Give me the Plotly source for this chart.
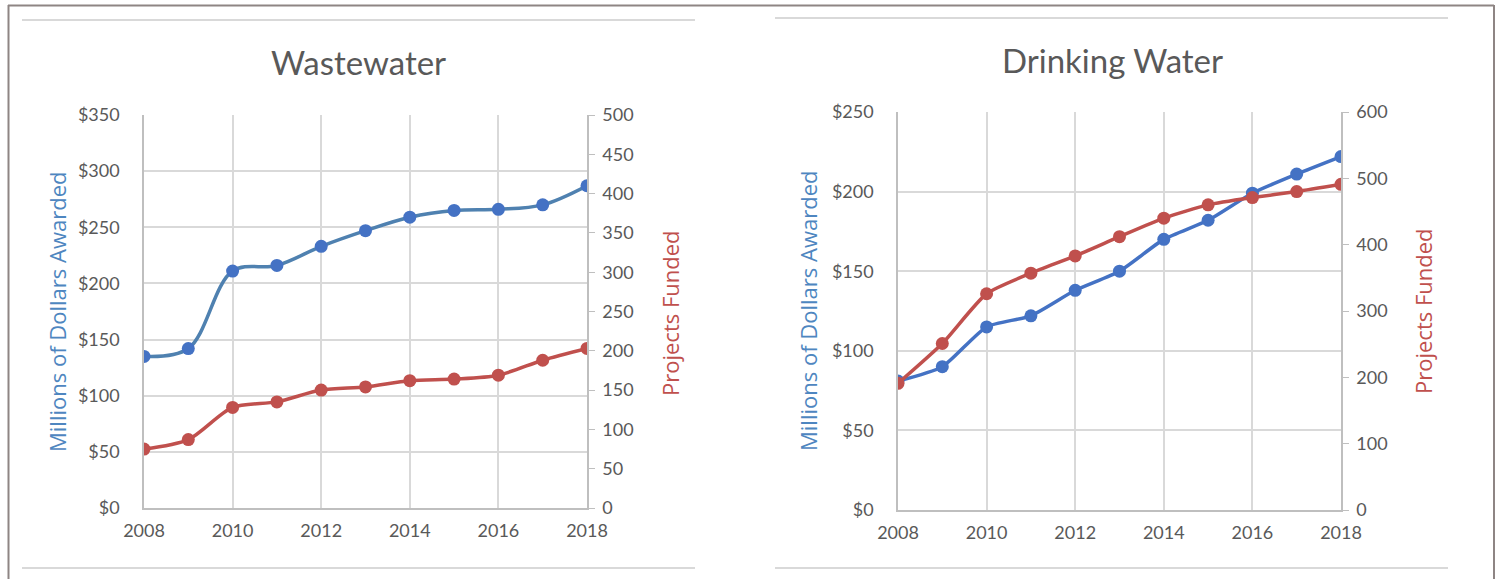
import plotly.graph_objects as go

years = [2008, 2009, 2010, 2011, 2012, 2013, 2014, 2015, 2016, 2017, 2018]

ww_dollars = [135, 142, 211, 216, 233, 247, 259, 265, 266, 270, 287]
ww_projects = [75, 87, 128, 135, 150, 154, 162, 164, 169, 188, 203]

dw_dollars = [81, 90, 115, 122, 138, 150, 170, 182, 199, 211, 222]
dw_projects = [191, 251, 326, 357, 383, 412, 440, 460, 471, 480, 491]

titles = ["Wastewater", "Drinking Water"]
left_title = "Millions of Dollars Awarded"
right_title = "Projects Funded"

W, H = 1501, 579
def px(x):
    return x / W
def py(y):
    return 1 - y / H

BLUE_M = "#4472C4"
BLUE_L_WW = "#4F81B0"
RED = "#C0504D"
GRID = "#D9D9D9"
AXIS = "#BFBFBF"
TXT = "#595959"
FONT = "Lato"

fig = go.Figure()

fig.add_trace(go.Scatter(x=years, y=ww_dollars, mode="lines+markers",
    line=dict(color=BLUE_L_WW, width=3.5, shape="spline", smoothing=1),
    marker=dict(color=BLUE_M, size=13), xaxis="x", yaxis="y", showlegend=False))
fig.add_trace(go.Scatter(x=years, y=ww_projects, mode="lines+markers",
    line=dict(color=RED, width=3.5, shape="spline", smoothing=0.8),
    marker=dict(color=RED, size=13), xaxis="x", yaxis="y2", showlegend=False))
fig.add_trace(go.Scatter(x=years, y=dw_dollars, mode="lines+markers",
    line=dict(color=BLUE_M, width=3.5, shape="spline", smoothing=0.6),
    marker=dict(color=BLUE_M, size=13), xaxis="x2", yaxis="y3", showlegend=False))
fig.add_trace(go.Scatter(x=years, y=dw_projects, mode="lines+markers",
    line=dict(color=RED, width=3.5, shape="spline", smoothing=0.6),
    marker=dict(color=RED, size=13), xaxis="x2", yaxis="y4", showlegend=False))

tickfont = dict(family=FONT, size=18, color=TXT)

xcommon = dict(range=[2008, 2018], dtick=2, tick0=2008, showgrid=True, gridcolor=GRID,
               gridwidth=1.5, showline=True, linecolor=AXIS, linewidth=1.5,
               tickfont=tickfont, ticks="", ticklabelstandoff=6, zeroline=False,
               automargin=False)
lcommon = dict(showgrid=True, gridcolor=GRID, gridwidth=1.5, showline=True,
               linecolor=AXIS, linewidth=1.5, tickfont=tickfont, ticks="",
               tickprefix="$", ticklabelstandoff=19, zeroline=False, automargin=False)
rcommon = dict(showgrid=False, showline=True, linecolor=AXIS, linewidth=1.5,
               tickfont=tickfont, ticks="outside", ticklen=6, tickcolor=AXIS,
               ticklabelstandoff=4, zeroline=False, side="right", automargin=False)

fig.update_layout(
    template="none",
    width=W, height=H, margin=dict(l=0, r=0, t=0, b=0, pad=0, autoexpand=False),
    paper_bgcolor="white", plot_bgcolor="white",
    xaxis=dict(domain=[px(144), px(587)], anchor="y", **xcommon),
    yaxis=dict(domain=[py(508), py(115)], range=[0, 350], dtick=50, anchor="x", **lcommon),
    yaxis2=dict(range=[0, 500], dtick=50, overlaying="y", anchor="x", **rcommon),
    xaxis2=dict(domain=[px(898), px(1341)], anchor="y3", **xcommon),
    yaxis3=dict(domain=[py(510), py(112)], range=[0, 250], dtick=50, anchor="x2", **lcommon),
    yaxis4=dict(range=[0, 600], dtick=100, overlaying="y3", anchor="x2", **rcommon),
)

ann = []
for t, cx, cy in [(titles[0], 358, 62), (titles[1], 1112, 60)]:
    ann.append(dict(text=t, x=px(cx), y=py(cy), xref="paper", yref="paper",
                    showarrow=False, xanchor="center", yanchor="middle",
                    font=dict(family=FONT, size=33, color=TXT)))
for cx, cy in [(57, 312), (808, 311)]:
    ann.append(dict(text=left_title, x=px(cx), y=py(cy), xref="paper", yref="paper",
                    showarrow=False, textangle=-90, xanchor="center", yanchor="middle",
                    font=dict(family="Open Sans", size=22, color="#4E86C0")))
for cx, cy in [(670, 313), (1423, 311)]:
    ann.append(dict(text=right_title, x=px(cx), y=py(cy), xref="paper", yref="paper",
                    showarrow=False, textangle=-90, xanchor="center", yanchor="middle",
                    font=dict(family="Open Sans", size=22, color=RED)))
fig.update_layout(annotations=ann)

shapes = []
BORDER = "#8E8584"
shapes.append(dict(type="line", xref="paper", yref="paper", x0=px(8), x1=px(1494), y0=py(5.5), y1=py(5.5), line=dict(color=BORDER, width=2)))
shapes.append(dict(type="line", xref="paper", yref="paper", x0=px(8.5), x1=px(8.5), y0=py(5), y1=py(579), line=dict(color=BORDER, width=2)))
shapes.append(dict(type="line", xref="paper", yref="paper", x0=px(1494), x1=px(1494), y0=py(5), y1=py(579), line=dict(color=BORDER, width=2)))
for x0, x1, y in [(22, 695, 20), (22, 695, 568), (775, 1448, 18), (775, 1448, 568)]:
    shapes.append(dict(type="line", xref="paper", yref="paper", x0=px(x0), x1=px(x1), y0=py(y), y1=py(y), line=dict(color="#D9D9D9", width=2)))
fig.update_layout(shapes=shapes)

fig.write_html("out.html", config={"displayModeBar": False},
               post_script="document.body.style.margin='0';document.body.style.padding='0';document.documentElement.style.overflow='hidden';")
